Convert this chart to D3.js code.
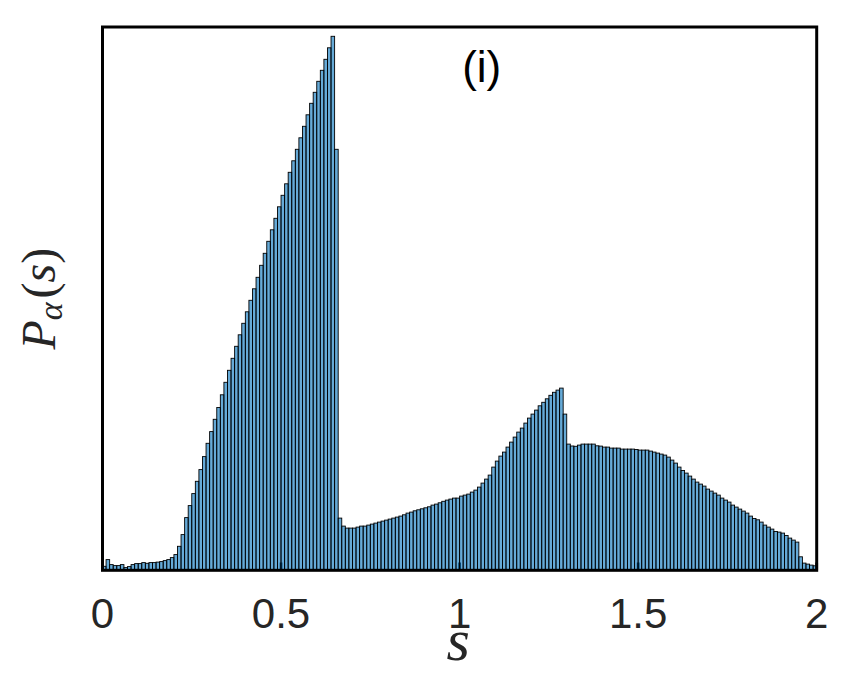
<!DOCTYPE html>
<html>
<head>
<meta charset="utf-8">
<script src="https://cdn.jsdelivr.net/npm/d3@7"></script>
<style>
  body { margin: 0; background: #fff; }
</style>
</head>
<body>
<div id="chart"></div>
<script>
// histogram of s, 200 bins of width 0.01 on [0, 2] (arbitrary height units)
const binWidth = 0.01
const binCounts = [
    4, 10.7, 5.7, 4.7, 4.7, 5.7, 2.7, 3.7, 5.7, 6.7,
    6.7, 7.7, 7, 7.7, 7.7, 8.2, 8.7, 9.7, 10.7, 12.7,
    15.7, 24, 35.7, 52.7, 64.7, 76.7, 89, 100.7, 113.7, 127,
    138.7, 151, 162.8, 175.5, 188, 200, 212, 224, 235.5, 247,
    258.5, 270, 281.5, 293, 305, 317, 329, 340.5, 352, 363.5,
    375, 386.5, 398, 409.5, 421, 432.5, 444, 455.5, 467, 478,
    489, 500, 511, 522.5, 534, 421, 52.2, 44.2, 42.2, 42.2,
    42.2, 43.2, 44.2, 44.2, 45.2, 46.2, 47.2, 48.2, 49.2, 50.2,
    51.2, 52.2, 53.2, 54.2, 55.5, 57.2, 58.2, 59.5, 60.5, 61.5,
    62.5, 63.5, 65.2, 66.2, 67.5, 69, 70.2, 71.2, 72.2, 72.2,
    74.2, 75.2, 76.2, 78.2, 80.2, 83.2, 87.2, 91.2, 95.2, 103.2,
    109.2, 114.2, 118.2, 123.2, 128.2, 133.2, 138.2, 142.2, 147.2, 152.2,
    156.2, 160.2, 164.5, 168, 171.5, 175, 178, 180.2, 182.2, 156.2,
    126.2, 124.3, 124, 125.2, 126.2, 126.2, 126.2, 126.2, 124.5, 124.2,
    123.2, 123.2, 122.2, 122.2, 122.2, 121.2, 121.2, 121.2, 121.2, 120.8,
    120.2, 120.2, 120.2, 119.2, 118.2, 117.2, 116.2, 115.2, 113.2, 110.2,
    107.2, 103.2, 99.8, 97.2, 94.2, 91.2, 88.2, 86.2, 84.2, 81.2,
    79.2, 77.2, 75.2, 72.2, 70.2, 68.2, 65.2, 63.2, 61.2, 59.2,
    57.2, 54.2, 51.8, 50.5, 48.2, 45.2, 43.2, 41.2, 38.8, 38.2,
    37.2, 34.8, 32.2, 30.2, 28.2, 13.5, 7.2, 6.2, 5.2, 4.5
]
const xTicks = [0, 0.5, 1, 1.5, 2]
const xTickLabels = ['0', '0.5', '1', '1.5', '2']
const xDomain = [0, 2]
const yMax = 543.3
const panelLabel = '(i)'

const width = 850
const height = 680
const plot = { left: 102.5, right: 816.7, top: 27, bottom: 570.3 }

const svg = d3.select('#chart')
    .append('svg')
    .attr('width', width)
    .attr('height', height)
    .style('display', 'block')

const x = d3.scaleLinear().domain(xDomain).range([plot.left, plot.right])
const y = d3.scaleLinear().domain([0, yMax]).range([plot.bottom, plot.top])

// ticks sit behind the see-through bars
svg.append('g')
    .selectAll('line')
    .data(xTicks)
    .enter()
    .append('line')
    .attr('x1', d => x(d))
    .attr('x2', d => x(d))
    .attr('y1', plot.bottom)
    .attr('y2', plot.bottom - 7.8)
    .attr('stroke', '#000')
    .attr('stroke-width', 2.7)

// bars
svg.append('g')
    .selectAll('rect')
    .data(binCounts)
    .enter()
    .append('rect')
    .attr('x', (d, i) => x(i * binWidth))
    .attr('y', d => y(d))
    .attr('width', (d, i) => x((i + 1) * binWidth) - x(i * binWidth))
    .attr('height', d => y(0) - y(d))
    .attr('fill', 'rgb(0,114,189)')
    .attr('fill-opacity', 0.6)
    .attr('stroke', '#000')
    .attr('stroke-width', 0.9)

// box
svg.append('rect')
    .attr('x', plot.left)
    .attr('y', plot.top)
    .attr('width', plot.right - plot.left)
    .attr('height', plot.bottom - plot.top)
    .attr('fill', 'none')
    .attr('stroke', '#000')
    .attr('stroke-width', 3)

// tick labels
svg.append('g')
    .selectAll('text')
    .data(xTicks)
    .enter()
    .append('text')
    .attr('x', d => x(d))
    .attr('y', 628)
    .attr('text-anchor', 'middle')
    .style('font-family', '"Liberation Sans", Arial, sans-serif')
    .style('font-size', '42px')
    .style('fill', '#262626')
    .text((d, i) => xTickLabels[i])

// x label
svg.append('text')
    .attr('x', x(1) - 1.5)
    .attr('y', 660)
    .attr('text-anchor', 'middle')
    .style('font-family', '"Liberation Serif", "Times New Roman", serif')
    .style('font-style', 'italic')
    .style('font-size', '60px')
    .style('fill', '#262626')
    .text('s')

// y label  P_alpha(s)
const yLabel = svg.append('text')
    .attr('transform', `translate(55, ${(plot.top + plot.bottom) / 2 + 0}) rotate(-90)`)
    .attr('text-anchor', 'middle')
    .style('font-family', '"Liberation Serif", "Times New Roman", serif')
    .style('font-size', '48px')
    .style('fill', '#262626')
yLabel.append('tspan').style('font-style', 'italic').text('P')
yLabel.append('tspan').style('font-style', 'italic').style('font-size', '34px').attr('dy', 7).text('α')
yLabel.append('tspan').attr('dy', -7).attr('dx', 4).text('(')
yLabel.append('tspan').style('font-style', 'italic').text('s')
yLabel.append('tspan').text(')')

// panel label
svg.append('text')
    .attr('x', x(1.062))
    .attr('y', 82)
    .attr('text-anchor', 'middle')
    .style('font-family', '"Liberation Sans", Arial, sans-serif')
    .style('font-size', '44px')
    .style('fill', '#000')
    .text(panelLabel)
</script>
</body>
</html>
